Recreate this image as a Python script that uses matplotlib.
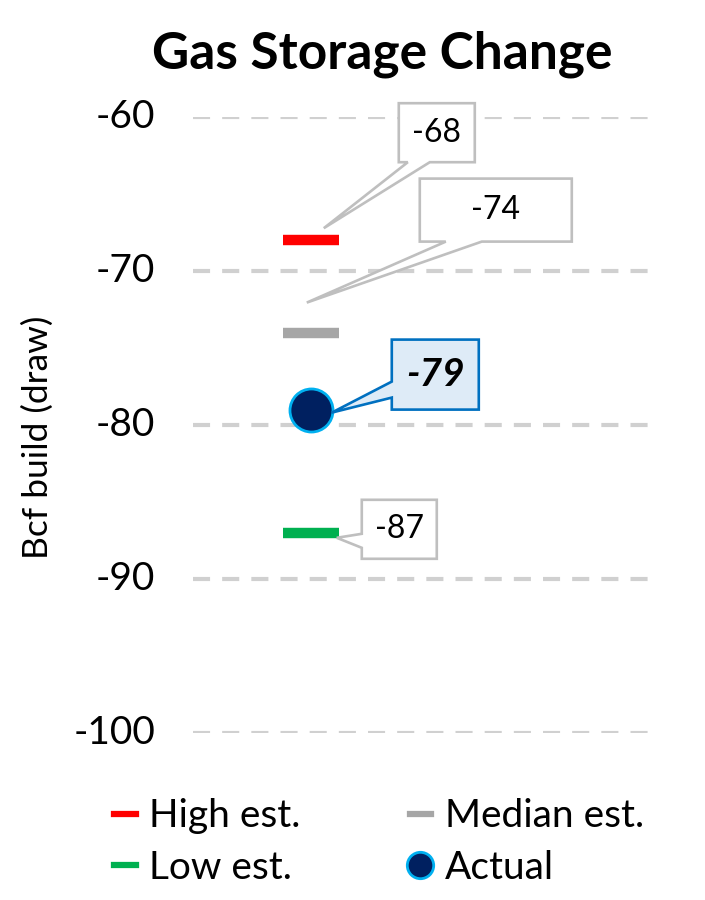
import numpy as np
import matplotlib
matplotlib.use('Agg')
import matplotlib.pyplot as plt
from matplotlib.patches import Polygon
from matplotlib.lines import Line2D
from matplotlib.transforms import IdentityTransform

plt.rcParams['font.family'] = ['Lato', 'DejaVu Sans']
plt.rcParams['axes.unicode_minus'] = False

series = ['High est.', 'Median est.', 'Low est.', 'Actual']
values = [-68, -74, -87, -79]
colors = ['#FF0000', '#A6A6A6', '#00B050', '#002060']
yticks = [-60, -70, -80, -90, -100]
ytick_labels = ['-60', '-70', '-80', '-90', '-100']

W, H = 705, 900
fig = plt.figure(figsize=(W / 100, H / 100), dpi=100)
ax = fig.add_axes([193 / W, 1 - 733 / H, (650 - 193) / W, (733 - 117) / H])
ax.set_ylim(-100, -60)
ax.set_xlim(-0.5, 1.44)
for s in ax.spines.values():
    s.set_visible(False)
ax.set_xticks([])
ax.set_yticks(yticks)
ax.set_yticklabels(ytick_labels, fontsize=28, va='center')
ax.tick_params(axis='y', length=0, pad=27)
for t in yticks:
    ax.axhline(t, color='#D0D0D0', lw=3, ls=(0, (4.1, 2.9)), zorder=0)
ax.set_ylabel('Bcf build (draw)', fontsize=25.5)
ax.yaxis.set_label_coords(-0.305, 0.48)

# estimate dashes and actual point
for name, v, c in zip(series, values, colors):
    if name == 'Actual':
        ax.plot([0], [v], 'o', ms=31, mfc=c, mec='#00B0F0', mew=2, zorder=5, clip_on=False)
    else:
        ax.plot([0], [v], '_', ms=41, mew=7.5, color=c, zorder=4, clip_on=False)

fig.text(382 / W, 1 - 68 / H, 'Gas Storage Change', ha='center', va='baseline',
         fontsize=37, fontweight='bold')


def callout(tip, box, base, side, text, ec, fc, **kw):
    # tip in px (top-down); box = (x0, y0, x1, y1); base = pointer root on the given edge
    x0, y0, x1, y1 = box
    b0, b1 = base
    if side == 'bottom':
        pts = [(x0, y0), (x1, y0), (x1, y1), (b1, y1), tip, (b0, y1), (x0, y1)]
    else:
        pts = [(x0, y0), (x1, y0), (x1, y1), (x0, y1), (x0, b1), tip, (x0, b0)]
    pts = [(px, H - py) for px, py in pts]
    fig.patches.append(Polygon(pts, closed=True, transform=IdentityTransform(),
                               ec=ec, fc=fc, lw=1.9, zorder=6))
    fig.text((x0 + x1) / 2 / W, 1 - (y0 + y1) / 2 / H, text, ha='center', va='center',
             zorder=7, **kw)


def anchor(v):
    x, y = ax.transData.transform((0, v))
    return x, H - y


# callouts positioned relative to each value (pixel offsets)
px, py = anchor(values[0])
callout((px + 13, py - 12), (px + 88, py - 137, px + 164, py - 78), (px + 97, px + 119),
        'bottom', '-68', '#BFBFBF', 'white', fontsize=23)
px, py = anchor(values[1])
callout((px - 4, py - 30), (px + 109, py - 154, px + 261, py - 91), (px + 135, px + 171),
        'bottom', '-74', '#BFBFBF', 'white', fontsize=23)
px, py = anchor(values[2])
callout((px + 26, py + 5), (px + 51, py - 33, px + 126, py + 26), (py + 1, py + 15),
        'left', '-87', '#BFBFBF', 'white', fontsize=23)
px, py = anchor(values[3])
callout((px + 21, py + 3), (px + 81, py - 70, px + 168, py + 0), (py - 28, py - 12),
        'left', '-79', '#0070C0', '#DEEBF7', fontsize=28, fontweight='bold', style='italic')

handles = [
    Line2D([], [], color=colors[0], lw=4.5),
    Line2D([], [], color=colors[1], lw=4.5),
    Line2D([], [], color=colors[2], lw=4.5),
    Line2D([], [], marker='o', ls='none', ms=19, mfc=colors[3], mec='#00B0F0', mew=2),
]
fig.legend([handles[0], handles[2], handles[1], handles[3]],
           [series[0], series[2], series[1], series[3]],
           ncol=2, frameon=False, loc='center', bbox_to_anchor=(379 / W, 1 - 842 / H),
           fontsize=28, handlelength=0.55, handletextpad=0.35, columnspacing=2.8,
           labelspacing=0.4, borderpad=0, borderaxespad=0)

fig.savefig('out.png', dpi=100)
